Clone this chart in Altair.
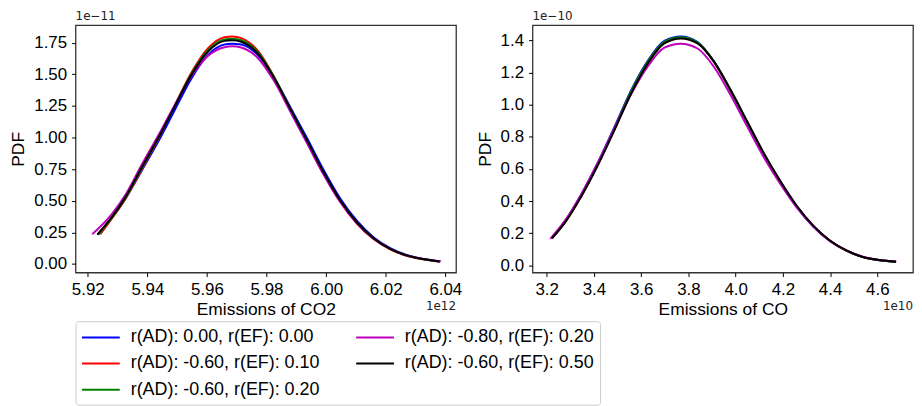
import altair as alt
import pandas as pd

series_labels = [
    "r(AD): 0.00, r(EF): 0.00",
    "r(AD): -0.60, r(EF): 0.10",
    "r(AD): -0.60, r(EF): 0.20",
    "r(AD): -0.80, r(EF): 0.20",
    "r(AD): -0.60, r(EF): 0.50",
]
series_colors = ["#0000ff", "#ff0000", "#008000", "#bf00bf", "#000000"]

# ---- CO2 panel (x in 1e12, y in 1e-11) ----
co2_x_common = [5.9280, 5.9326, 5.9381, 5.9437, 5.9492, 5.9548, 5.9603, 5.9659, 5.9685,
                5.9715, 5.9770, 5.9826, 5.9881, 5.9937, 5.9992, 6.0048, 6.0103,
                6.0159, 6.0215, 6.0270, 6.0326]
co2_x_start = [5.9233, 5.9242, 5.9236, 5.9215, 5.9232]
co2_x_end = [6.0381, 6.0381, 6.0381, 6.0385, 6.0381]
co2_y_blue = [0.232, 0.360, 0.515, 0.738, 0.970, 1.218, 1.468, 1.652, 1.737, 1.742, 1.736, 1.655,
              1.472, 1.235, 0.990, 0.742, 0.516, 0.342, 0.212, 0.125, 0.071, 0.040, 0.020]
co2_y_red = [0.235, 0.357, 0.515, 0.748, 0.990, 1.255, 1.515, 1.705, 1.793, 1.800, 1.787, 1.690,
             1.478, 1.215, 0.960, 0.710, 0.488, 0.320, 0.197, 0.116, 0.065, 0.037, 0.019]
co2_y_green = [0.233, 0.362, 0.520, 0.755, 0.995, 1.252, 1.505, 1.692, 1.777, 1.782, 1.770, 1.678,
               1.475, 1.222, 0.970, 0.720, 0.497, 0.328, 0.203, 0.119, 0.067, 0.038, 0.020]
co2_y_magenta = [0.235, 0.392, 0.545, 0.785, 1.018, 1.258, 1.485, 1.645, 1.715, 1.722, 1.712, 1.632,
                 1.445, 1.200, 0.950, 0.705, 0.488, 0.323, 0.201, 0.119, 0.068, 0.039, 0.021]
co2_y_black = [0.232, 0.368, 0.527, 0.763, 0.998, 1.247, 1.496, 1.679, 1.765, 1.770, 1.758, 1.667,
               1.470, 1.221, 0.972, 0.723, 0.500, 0.330, 0.204, 0.120, 0.068, 0.039, 0.020]
co2_y = [co2_y_blue, co2_y_red, co2_y_green, co2_y_magenta, co2_y_black]
co2_xticks = [5.92, 5.94, 5.96, 5.98, 6.00, 6.02, 6.04]
co2_yticks = [0.0, 0.25, 0.5, 0.75, 1.0, 1.25, 1.5, 1.75]

# ---- CO panel (x in 1e10, y in 1e-10) ----
co_x_common = [3.278, 3.348, 3.4185, 3.488, 3.5584, 3.6286, 3.6983, 3.7685, 3.8387,
               3.9084, 3.9786, 4.0487, 4.1185, 4.1887, 4.2588, 4.3286, 4.3987, 4.4689,
               4.5387, 4.6088]
co_x_start = [3.2225, 3.2228, 3.2225, 3.2150, 3.2223]
co_x_end = [4.679, 4.679, 4.679, 4.6805, 4.679]
co_y_blue = [0.170, 0.275, 0.445, 0.645, 0.865, 1.092, 1.275, 1.397, 1.425, 1.390, 1.268,
             1.085, 0.885, 0.690, 0.516, 0.363, 0.242, 0.152, 0.091, 0.051, 0.032, 0.022]
co_y_red = [0.168, 0.268, 0.435, 0.632, 0.850, 1.078, 1.262, 1.388, 1.415, 1.385, 1.266,
            1.088, 0.892, 0.697, 0.522, 0.368, 0.245, 0.154, 0.092, 0.052, 0.033, 0.022]
co_y_green = [0.169, 0.272, 0.440, 0.640, 0.858, 1.085, 1.270, 1.392, 1.420, 1.388, 1.268,
              1.088, 0.890, 0.695, 0.520, 0.366, 0.244, 0.153, 0.092, 0.051, 0.032, 0.022]
co_y_magenta = [0.165, 0.280, 0.448, 0.645, 0.855, 1.068, 1.240, 1.355, 1.380, 1.350, 1.235,
                1.060, 0.865, 0.675, 0.508, 0.360, 0.242, 0.153, 0.093, 0.053, 0.034, 0.024]
co_y_black = [0.169, 0.268, 0.433, 0.629, 0.845, 1.072, 1.258, 1.382, 1.412, 1.382, 1.268,
              1.093, 0.897, 0.701, 0.526, 0.371, 0.247, 0.155, 0.093, 0.052, 0.033, 0.023]
co_y = [co_y_blue, co_y_red, co_y_green, co_y_magenta, co_y_black]
co_xticks = [3.2, 3.4, 3.6, 3.8, 4.0, 4.2, 4.4, 4.6]
co_yticks = [0.0, 0.2, 0.4, 0.6, 0.8, 1.0, 1.2, 1.4]

FONT = "Liberation Sans"
W, H = 383, 249

color_scale = alt.Scale(domain=series_labels, range=series_colors)


def build_df(x_common, x_start, x_end, ys):
    rows = []
    for i, lab in enumerate(series_labels):
        xs = [x_start[i]] + x_common + [x_end[i]]
        for j, (xv, yv) in enumerate(zip(xs, ys[i])):
            rows.append({"x": xv, "y": yv, "series": lab, "k": j})
    return pd.DataFrame(rows)


def panel(df, xdom, ydom, xticks, yticks, xfmt, yfmt, xtitle, exp_top, exp_bottom):
    xenc = alt.X("x:Q", scale=alt.Scale(domain=xdom, nice=False, zero=False),
                 axis=alt.Axis(values=xticks, format=xfmt, title=xtitle))
    yenc = alt.Y("y:Q", scale=alt.Scale(domain=ydom, nice=False, zero=False),
                 axis=alt.Axis(values=yticks, format=yfmt, title="PDF"))
    cenc = alt.Color("series:N", scale=color_scale, title=None)
    layers = []
    for lab in series_labels:
        layers.append(
            alt.Chart(df).transform_filter(alt.datum.series == lab)
            .mark_line(strokeWidth=2, interpolate="monotone")
            .encode(x=xenc, y=yenc, color=cenc, order="k:Q")
        )
    top = alt.Chart(pd.DataFrame({"t": [exp_top]})).mark_text(
        font="DejaVu Sans", fontSize=12, align="left", baseline="middle", color="#222"
    ).encode(text="t:N", x=alt.value(0), y=alt.value(-9))
    bot = alt.Chart(pd.DataFrame({"t": [exp_bottom]})).mark_text(
        font="DejaVu Sans", fontSize=12, align="right", baseline="middle", color="#222"
    ).encode(text="t:N", x=alt.value(W), y=alt.value(H + 34))
    return alt.layer(*layers, top, bot).properties(width=W, height=H)


left = panel(build_df(co2_x_common, co2_x_start, co2_x_end, co2_y),
             [5.9159, 6.0436], [-0.068, 1.889], co2_xticks, co2_yticks,
             ".2f", ".2f", "Emissions of CO2", "1e\u221211", "1e12")
right = panel(build_df(co_x_common, co_x_start, co_x_end, co_y),
              [3.14, 4.751], [-0.045, 1.495], co_xticks, co_yticks,
              ".1f", ".1f", "Emissions of CO", "1e\u221210", "1e10")

chart = alt.hconcat(left, right, spacing=12).resolve_scale(color="shared").properties(
    padding={"left": 1, "top": 0, "right": 0, "bottom": 0}, background="white"
).configure_view(
    stroke="#333333", strokeWidth=1.3
).configure_axis(
    labelFont=FONT, labelFontSize=17, labelColor="black",
    titleFont=FONT, titleFontSize=17.5, titleFontWeight="normal", titleColor="black",
    tickColor="black", tickSize=4, tickWidth=1, domain=False, grid=False,
    labelPadding=5,
).configure_axisY(
    titlePadding=6
).configure_axisX(
    titlePadding=3
).configure_legend(
    orient="none", legendX=0, legendY=298, direction="vertical", columns=2,
    symbolType="M-1,0L3,0", symbolSize=361, symbolStrokeWidth=2,
    labelFont=FONT, labelFontSize=18, labelColor="black", labelOffset=29,
    strokeColor="#cccccc", fillColor="white", padding=5.5, cornerRadius=3,
    rowPadding=6.5, columnPadding=32, labelLimit=400,
)

chart.save("out.html", embed_options={"renderer": "svg", "actions": False})
